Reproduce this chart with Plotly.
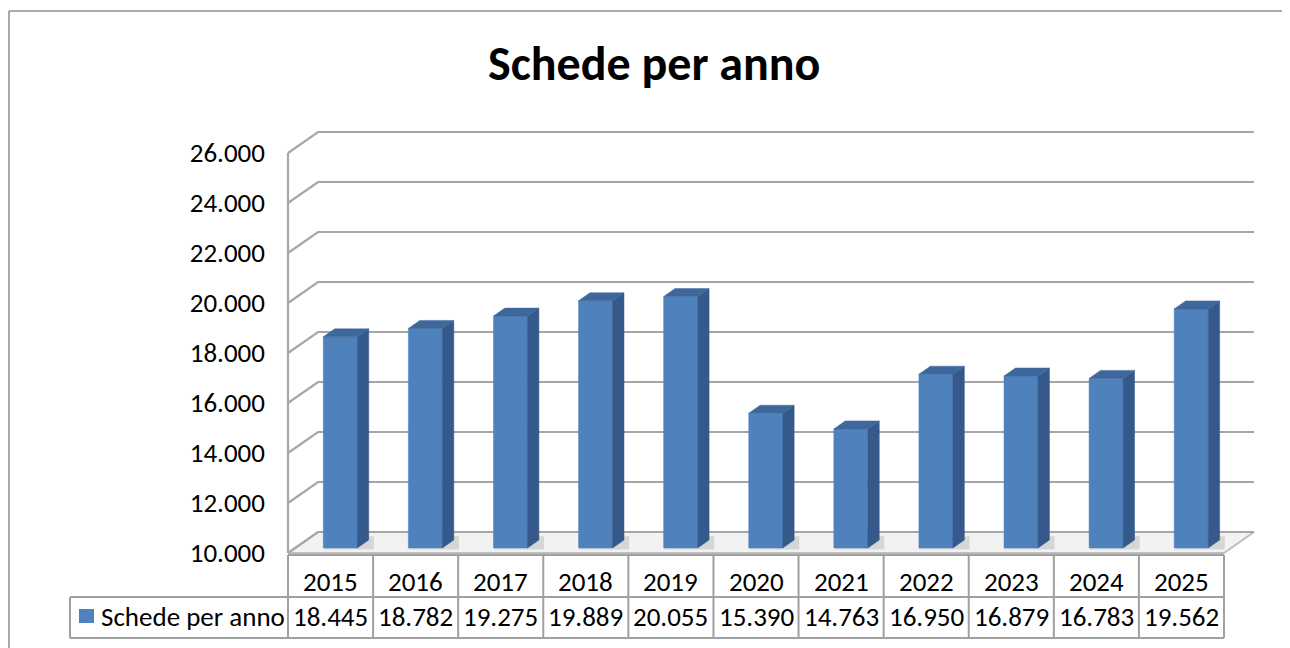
import plotly.graph_objects as go

# ---------------- data ----------------
years = ["2015", "2016", "2017", "2018", "2019", "2020", "2021", "2022", "2023", "2024", "2025"]
schede = [18445, 18782, 19275, 19889, 20055, 15390, 14763, 16950, 16879, 16783, 19562]
series_name = "Schede per anno"
title_text = "Schede per anno"
y_ticks = [10000, 12000, 14000, 16000, 18000, 20000, 22000, 24000, 26000]

# ---------------- layout constants (screen pixels) ----------------
OFF = 8                  # page body margin
W, H = 1290 - OFF, 648 - OFF
X0 = 288                 # screen pixel of front-left axis
PX = 936 / len(years)    # pixels per category
YBASE_PX = 553           # screen pixel of 10.000 on the front plane
VPX = 0.025              # pixels per unit value
YBASE = y_ticks[0]


def xu(px):
    return (px - X0) / PX


def yv(py):
    return YBASE + (YBASE_PX - py) / VPX


DX = 30 / PX     # full floor depth, x offset (data units)
DY = 21 / VPX    # full floor depth, y offset (data units)

FONT = "Carlito, Calibri, Lato, sans-serif"
FS = 27
GRID = "#A6A6A6"
FRONT = "#4F81BD"
SIDE = "#35598A"
TOP = "#3E679C"

fig = go.Figure()
n = len(years)

# floor
fig.add_trace(go.Scatter(
    x=[0, n, n + DX, DX, 0], y=[YBASE, YBASE, YBASE + DY, YBASE + DY, YBASE],
    mode="lines", fill="toself", fillcolor="#F2F2F2",
    line=dict(color="#BDBDBD", width=2), hoverinfo="skip"))

# gridlines (left wall diagonal + back wall)
gx, gy = [], []
for t in y_ticks:
    gx += [0, DX, n + DX, None]
    gy += [t, t + DY, t + DY, None]
gx += [0, 0, None]
gy += [y_ticks[0], y_ticks[-1], None]
fig.add_trace(go.Scatter(x=gx, y=gy, mode="lines",
                         line=dict(color=GRID, width=2.2), hoverinfo="skip"))

# 3D bars
d0, d1 = 0.24, 0.62
bw = 0.40
shift = 0.03
fx, fy, sx, sy, tx, ty = [], [], [], [], [], []
shx, shy = [], []
for i, v in enumerate(schede):
    xl = i + 0.5 - bw / 2 + shift
    xr = xl + bw
    ox0, oy0 = d0 * DX, d0 * DY
    ox1, oy1 = d1 * DX, d1 * DY
    # soft shadow on the floor
    shx += [xl + ox0, xr + ox1 + 0.06, xr + ox1 + 0.06, xl + ox1, None]
    shy += [YBASE + oy0 - 60, YBASE + oy0 - 60, YBASE + oy1 + 150, YBASE + oy1 + 150, None]
    fx += [xl + ox0, xr + ox0, xr + ox0, xl + ox0, xl + ox0, None]
    fy += [YBASE + oy0, YBASE + oy0, v + oy0, v + oy0, YBASE + oy0, None]
    sx += [xr + ox0, xr + ox1, xr + ox1, xr + ox0, xr + ox0, None]
    sy += [YBASE + oy0, YBASE + oy1, v + oy1, v + oy0, YBASE + oy0, None]
    tx += [xl + ox0, xr + ox0, xr + ox1, xl + ox1, xl + ox0, None]
    ty += [v + oy0, v + oy0, v + oy1, v + oy1, v + oy0, None]

fig.add_trace(go.Scatter(x=shx, y=shy, mode="lines", fill="toself",
                         fillcolor="rgba(150,150,150,0.30)", line=dict(width=0),
                         hoverinfo="skip"))
for xs, ys, col in [(fx, fy, FRONT), (sx, sy, SIDE), (tx, ty, TOP)]:
    fig.add_trace(go.Scatter(x=xs, y=ys, mode="lines", fill="toself",
                             fillcolor=col, line=dict(color=col, width=0.5),
                             hoverinfo="skip", name=series_name))

# ---------------- data table ----------------
TBL = "#A0A0A0"
row_top, row_mid, row_bot = yv(555), yv(597), yv(638)
left_cell = xu(70)
shapes = []
shapes.append(dict(type="line", x0=0, x1=n, y0=row_top, y1=row_top,
                   line=dict(color=TBL, width=2)))
for yy in (row_mid, row_bot):
    shapes.append(dict(type="line", x0=left_cell, x1=n, y0=yy, y1=yy,
                       line=dict(color=TBL, width=2)))
for k in range(n + 1):
    shapes.append(dict(type="line", x0=k, x1=k, y0=row_top, y1=row_bot,
                       line=dict(color=TBL, width=2)))
shapes.append(dict(type="line", x0=left_cell, x1=left_cell, y0=row_mid, y1=row_bot,
                   line=dict(color=TBL, width=2)))
# legend key
shapes.append(dict(type="rect", x0=xu(79), x1=xu(94), y0=yv(623), y1=yv(609),
                   fillcolor=FRONT, line=dict(width=0)))
# chart frame (top and left edges; the rest lies outside the picture)
fx0 = (9 - OFF) / W
fy1 = 1 - (11 - OFF) / H
shapes.append(dict(type="line", xref="paper", yref="paper", x0=fx0, x1=1.0, y0=fy1, y1=fy1,
                   line=dict(color="#8C8C8C", width=1.5)))
shapes.append(dict(type="line", xref="paper", yref="paper", x0=fx0, x1=fx0, y0=0.0, y1=fy1,
                   line=dict(color="#8C8C8C", width=1.5)))

annotations = []
for i, (yr, v) in enumerate(zip(years, schede)):
    annotations.append(dict(x=i + 0.5, y=yv(581), text=yr, showarrow=False,
                            xanchor="center", yanchor="middle",
                            font=dict(family=FONT, size=FS, color="black")))
    annotations.append(dict(x=i + 0.5, y=yv(616), text=f"{v:,}".replace(",", "."),
                            showarrow=False, xanchor="center", yanchor="middle",
                            font=dict(family=FONT, size=FS, color="black")))
annotations.append(dict(x=xu(99), y=yv(616), text=series_name, showarrow=False,
                        xanchor="left", yanchor="middle",
                        font=dict(family=FONT, size=FS, color="black")))
annotations.append(dict(x=xu(654), y=yv(63), text=f"<b>{title_text}</b>", showarrow=False,
                        xanchor="center", yanchor="middle",
                        font=dict(family=FONT, size=48, color="black")))

fig.update_layout(
    width=W, height=H, margin=dict(l=0, r=0, t=0, b=0),
    paper_bgcolor="white", plot_bgcolor="white", showlegend=False,
    separators=",.",
    shapes=shapes, annotations=annotations,
    xaxis=dict(range=[xu(OFF), xu(OFF + W)], visible=False, fixedrange=True),
    yaxis=dict(range=[yv(OFF + H), yv(OFF)], anchor="free", position=(X0 - OFF) / W,
               tickvals=y_ticks, tickformat=",.0f", showgrid=False,
               zeroline=False, showline=False, ticks="", ticklabelstandoff=23,
               tickfont=dict(family=FONT, size=FS, color="black"), fixedrange=True),
)

fig.write_html("out.html")
